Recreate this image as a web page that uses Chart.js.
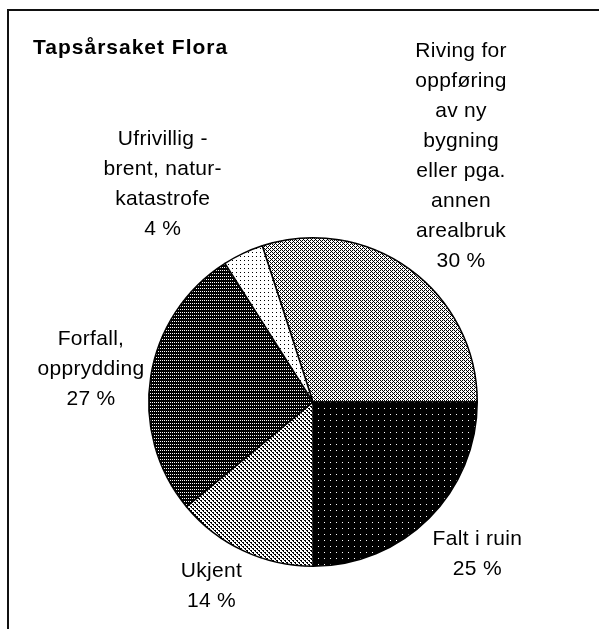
<!DOCTYPE html>
<html>
<head>
<meta charset="utf-8">
<title>Tapsårsaket Flora</title>
<script src="https://cdn.jsdelivr.net/npm/chart.js@4/dist/chart.umd.min.js"></script>
<style>
  html, body { margin: 0; padding: 0; background: #fff; overflow: hidden; }
  #frame {
    position: absolute; left: 7px; top: 9px; width: 700px; height: 700px;
    border-left: 2px solid #111; border-top: 2px solid #111;
  }
  #pie { position: absolute; left: 0; top: 0; }
</style>
</head>
<body>
<div id="frame"></div>
<canvas id="pie" width="599" height="629"></canvas>
<script>
const chartTitle = "Tapsårsaket Flora";
// category names, split into the lines used on the chart
const categories = [
  ["Riving for", "oppføring", "av ny", "bygning", "eller pga.", "annen", "arealbruk"],
  ["Falt i ruin"],
  ["Ukjent"],
  ["Forfall,", "opprydding"],
  ["Ufrivillig -", "brent, natur-", "katastrofe"],
];
const values = [30, 25, 14, 27, 4];

// label placement: [angle shift from slice middle (deg), distance as share of radius]
const labelShift = [[-4.9, 1.745], [-2.3, 1.362], [3.7, 1.279], [-0.5, 1.367], [-9.4, 1.611]];

function makePattern(w, h, bg, fg, isDot) {
  const c = document.createElement("canvas");
  c.width = w; c.height = h;
  const g = c.getContext("2d");
  g.fillStyle = bg;
  g.fillRect(0, 0, w, h);
  g.fillStyle = fg;
  for (let y = 0; y < h; y++) {
    for (let x = 0; x < w; x++) {
      if (isDot(x, y)) g.fillRect(x, y, 1, 1);
    }
  }
  return g.createPattern(c, "repeat");
}

const fills = [
  // light dither
  makePattern(4, 4, "#fff", "#000", (x, y) => (y % 2 === 0 && x % 2 === 0) || (y === 1 && x === 1) || (y === 3 && x === 3)),
  // black with sparse white dots
  makePattern(6, 6, "#000", "#fff", (x, y) => x === 0 && y === 0),
  // light diagonal
  makePattern(4, 4, "#fff", "#000", (x, y) => ((x - y + 8) % 4 === 0) || ((x - y + 8) % 4 === 1 && y % 2 === 0)),
  // dark, dense white dots
  makePattern(2, 3, "#000", "#fff", (x, y) => x === 0 && y === 0),
  // white with sparse black dots
  makePattern(4, 4, "#fff", "#000", (x, y) => x === 0 && y === 0),
];

const sliceLabels = {
  id: "sliceLabels",
  afterDatasetsDraw(chart) {
    const ctx = chart.ctx;
    const meta = chart.getDatasetMeta(0);
    const total = values.reduce((a, b) => a + b, 0);
    const lineH = 30;
    ctx.save();
    ctx.fillStyle = "#000";

    ctx.font = 'bold 21px "Liberation Sans", Arial, sans-serif';
    ctx.textAlign = "left";
    ctx.textBaseline = "alphabetic";
    ctx.letterSpacing = "1px";
    ctx.fillText(chartTitle, 33, 54);

    ctx.font = '21px "Liberation Sans", Arial, sans-serif';
    ctx.letterSpacing = "0.3px";
    ctx.textAlign = "center";
    ctx.textBaseline = "middle";
    meta.data.forEach((arc, i) => {
      const p = arc.getProps(["x", "y", "startAngle", "endAngle", "outerRadius"], true);
      const mid = (p.startAngle + p.endAngle) / 2 + labelShift[i][0] * Math.PI / 180;
      const r = p.outerRadius * labelShift[i][1];
      const cx = p.x + Math.cos(mid) * r;
      const cy = p.y + Math.sin(mid) * r;
      const lines = [...categories[i], Math.round(values[i] / total * 100) + " %"];
      const top = cy - (lines.length - 1) * lineH / 2;
      lines.forEach((t, k) => ctx.fillText(t, cx, top + k * lineH));
    });
    ctx.restore();
  },
};

new Chart(document.getElementById("pie"), {
  type: "pie",
  data: {
    labels: categories.map((c) => c.join(" ")),
    datasets: [{
      data: values,
      backgroundColor: fills,
      borderColor: "#000",
      borderWidth: 1.5,
      hoverOffset: 0,
    }],
  },
  options: {
    responsive: false,
    animation: false,
    rotation: -18,
    layout: { padding: { left: 148, right: 121, top: 237, bottom: 62 } },
    plugins: {
      legend: { display: false },
      tooltip: { enabled: false },
      title: { display: false },
    },
  },
  plugins: [sliceLabels],
});
</script>
</body>
</html>
